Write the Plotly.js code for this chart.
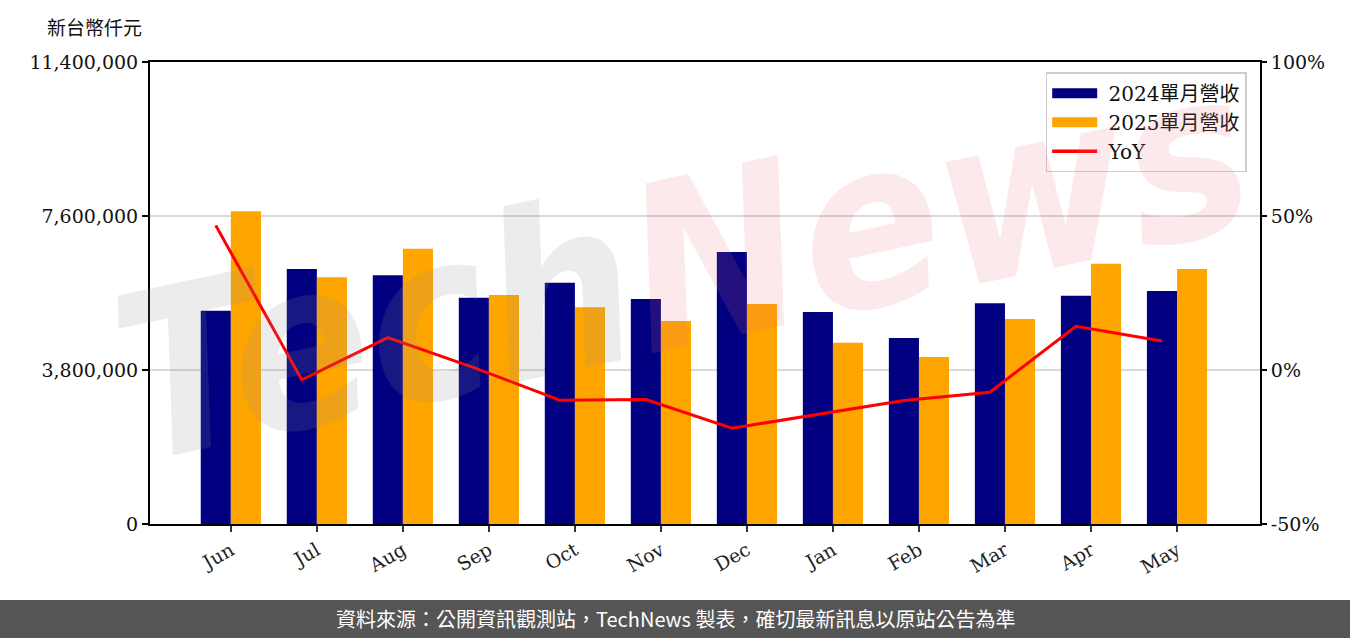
<!DOCTYPE html>
<html>
<head>
<meta charset="utf-8">
<script src="https://cdn.plot.ly/plotly-3.0.1.min.js"></script>
<style>html,body{margin:0;padding:0;background:#fff;}#chart{width:1350px;height:638px;}</style>
</head>
<body>
<div id="chart"></div>
<script>
const months = ["Jun","Jul","Aug","Sep","Oct","Nov","Dec","Jan","Feb","Mar","Apr","May"];
const rev2024 = [5260000,6290000,6140000,5580000,5950000,5550000,6710000,5230000,4590000,5450000,5630000,5750000];
const rev2025 = [7720000,6090000,6790000,5650000,5350000,5010000,5430000,4470000,4120000,5060000,6420000,6290000];
const yoy = [46.9,-3.2,10.5,0.8,-9.8,-9.6,-18.9,-14.3,-9.9,-7.2,14.2,9.4];
const yTicks = [0,3800000,7600000,11400000];
const yTickText = ["0","3,800,000","7,600,000","11,400,000"];
const y2Ticks = [-50,0,50,100];
const y2TickText = ["-50%","0%","50%","100%"];
const seriesNames = ["2024單月營收","2025單月營收","YoY"];
const colors = ["#000080","#ffa500","#ff0000"];

const serif = "DejaVu Serif, Noto Sans CJK TC, serif";
const xRange = [-0.94, 11.965];
const lineShift = 0.175; // YoY points sit at the centre of the first bar of each group

const traces = [
  {type:"bar", name:seriesNames[0], x:months, y:rev2024, marker:{color:colors[0]}, hoverinfo:"none", showlegend:false},
  {type:"bar", name:seriesNames[1], x:months, y:rev2025, marker:{color:colors[1]}, hoverinfo:"none", showlegend:false},
  {type:"scatter", mode:"lines", name:seriesNames[2], x:months, y:yoy, xaxis:"x2", yaxis:"y2", line:{color:colors[2], width:3}, hoverinfo:"none", showlegend:false},
  // legend entries (wide swatches like the reference)
  {type:"scatter", mode:"lines", name:" " + seriesNames[0], x:[null], y:[null], line:{color:colors[0], width:17}, showlegend:true},
  {type:"scatter", mode:"lines", name:" " + seriesNames[1], x:[null], y:[null], line:{color:colors[1], width:17}, showlegend:true},
  {type:"scatter", mode:"lines", name:" " + seriesNames[2], x:[null], y:[null], line:{color:colors[2], width:3.5}, showlegend:true}
];

const layout = {
  width:1350, height:638,
  margin:{l:150, r:90, t:62, b:114},
  paper_bgcolor:"#ffffff", plot_bgcolor:"#ffffff",
  barmode:"group", bargap:0.3, bargroupgap:0,
  font:{family:serif, color:"#111", size:19},
  showlegend:true,
  legend:{x:0.988, xanchor:"right", y:0.978, yanchor:"top", bgcolor:"rgba(255,255,255,0.9)", bordercolor:"#cccccc", borderwidth:1.5, font:{family:serif, size:20, color:"#111"}, traceorder:"normal", itemwidth:45, tracegroupgap:0},
  xaxis:{type:"category", range:xRange, showline:true, mirror:true, linecolor:"#000", linewidth:2, ticks:"outside", ticklen:6, tickwidth:2, tickcolor:"#333", tickangle:-30, tickfont:{family:serif, size:19, color:"#222"}, showgrid:false, zeroline:false, fixedrange:true},
  xaxis2:{type:"category", overlaying:"x", range:[xRange[0]+lineShift, xRange[1]+lineShift], visible:false, fixedrange:true},
  yaxis:{range:[0,11400000], tickvals:yTicks, ticktext:yTickText, showline:true, mirror:true, linecolor:"#000", linewidth:2, ticks:"outside", ticklen:6, tickwidth:2, tickcolor:"#000", tickfont:{family:serif, size:19, color:"#111"}, showgrid:true, gridcolor:"#d9d9d9", gridwidth:2, zeroline:false, fixedrange:true},
  yaxis2:{overlaying:"y", side:"right", range:[-50,100], tickvals:y2Ticks, ticktext:y2TickText, showline:false, ticks:"outside", ticklen:6, tickwidth:2, tickcolor:"#000", tickfont:{family:serif, size:19, color:"#111"}, showgrid:false, zeroline:false, fixedrange:true},
  shapes:[
    {type:"rect", xref:"paper", yref:"paper", x0:-0.14, x1:1.09, y0:-0.1645, y1:-0.26, fillcolor:"#555555", line:{width:0}, layer:"above"}
  ],
  annotations:[
    {xref:"paper", yref:"paper", x:-0.05, y:1.076, xanchor:"center", yanchor:"middle", showarrow:false, text:"新台幣仟元", font:{family:"Noto Sans CJK TC, sans-serif", size:19, color:"#111"}},
    {xref:"paper", yref:"paper", x:0.473, y:-0.2056, xanchor:"center", yanchor:"middle", showarrow:false, text:"資料來源：公開資訊觀測站，TechNews 製表，確切最新訊息以原站公告為準", font:{family:"Noto Sans CJK TC, sans-serif", size:20, color:"#ffffff"}},
    {xref:"paper", yref:"paper", x:0.48, y:0.56, xanchor:"center", yanchor:"middle", showarrow:false, textangle:-12, text:"<b><i><span style=\"color:rgba(140,140,140,0.17)\">Tech</span><span style=\"color:rgba(225,110,120,0.15)\">News</span></i></b>", font:{family:"DejaVu Sans Condensed, DejaVu Sans, sans-serif", size:230, color:"#8c8c8c"}}
  ]
};

Plotly.newPlot("chart", traces, layout, {displayModeBar:false, staticPlot:true});
</script>
</body>
</html>
